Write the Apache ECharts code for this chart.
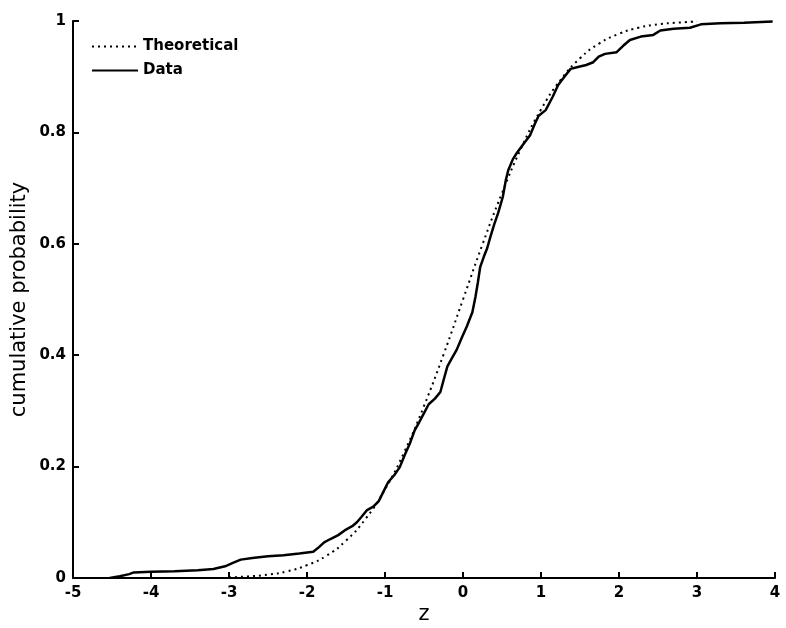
<!DOCTYPE html>
<html>
<head>
<meta charset="utf-8">
<script src="https://cdn.jsdelivr.net/npm/echarts@6/dist/echarts.min.js"></script>
<style>
  html, body { margin: 0; padding: 0; background: #fff; }
  #chart-cdf { width: 786px; height: 628px; }
</style>
</head>
<body>
<div id="chart-cdf"></div>
<script>
// Empirical vs theoretical CDF
const seriesNames = ['Theoretical', 'Data'];

// theoretical curve
const theoX = [-3, -2.75, -2.5, -2.25, -2, -1.75, -1.5, -1.25, -1, -0.75, -0.5, -0.25, 0,
               0.25, 0.5, 0.75, 1, 1.25, 1.5, 1.75, 2, 2.25, 2.5, 2.75, 3];
const theoY = [0.001, 0.003, 0.006, 0.012, 0.023, 0.040, 0.067, 0.106, 0.159, 0.227, 0.309, 0.401, 0.5,
               0.599, 0.691, 0.773, 0.841, 0.894, 0.933, 0.960, 0.977, 0.988, 0.994, 0.997, 0.999];

// data curve
const dataX = [-4.53, -4.40, -4.28, -4.22, -4.0, -3.7, -3.4, -3.2, -3.05, -2.95, -2.85, -2.7, -2.5, -2.3,
               -2.1, -1.92, -1.85, -1.78, -1.70, -1.60, -1.50, -1.42, -1.36, -1.30, -1.23, -1.15, -1.08,
               -1.02, -0.96, -0.88, -0.81, -0.75, -0.68, -0.62, -0.56, -0.50, -0.44, -0.36, -0.29, -0.24,
               -0.20, -0.14, -0.08, -0.02, 0.05, 0.12, 0.16, 0.19, 0.22, 0.27, 0.31, 0.35, 0.40, 0.45,
               0.51, 0.55, 0.58, 0.64, 0.69, 0.78, 0.86, 0.92, 0.97, 1.06, 1.15, 1.22, 1.30, 1.38, 1.46,
               1.58, 1.67, 1.74, 1.82, 1.97, 2.05, 2.14, 2.28, 2.44, 2.53, 2.70, 2.91, 3.05, 3.3, 3.6, 3.97];
const dataY = [0, 0.003, 0.007, 0.010, 0.011, 0.012, 0.014, 0.016, 0.021, 0.027, 0.033, 0.036, 0.039, 0.041,
               0.044, 0.047, 0.055, 0.064, 0.070, 0.077, 0.087, 0.093, 0.100, 0.110, 0.122, 0.128, 0.138,
               0.155, 0.172, 0.185, 0.199, 0.220, 0.242, 0.265, 0.280, 0.296, 0.312, 0.322, 0.334, 0.360,
               0.380, 0.395, 0.410, 0.430, 0.452, 0.477, 0.505, 0.530, 0.558, 0.578, 0.592, 0.612, 0.635, 0.655,
               0.684, 0.715, 0.732, 0.752, 0.763, 0.780, 0.795, 0.815, 0.830, 0.840, 0.864, 0.885, 0.900, 0.914, 0.917,
               0.921, 0.926, 0.936, 0.941, 0.944, 0.955, 0.966, 0.972, 0.975, 0.983, 0.986, 0.988, 0.994, 0.996, 0.997, 0.999];

const FONT = 'DejaVu Sans';

const chart = echarts.init(document.getElementById('chart-cdf'));
const axisCommon = {
    axisLine: { show: true, onZero: false, lineStyle: { color: '#000', width: 2 } },
    axisTick: { show: true, inside: true, length: 6, lineStyle: { color: '#000', width: 2 } },
    splitLine: { show: false },
    axisLabel: { color: '#000', fontFamily: FONT, fontWeight: 'bold', fontSize: 15 },
    nameTextStyle: { color: '#000', fontFamily: FONT, fontSize: 21 },
    nameMoveOverlap: false
};

chart.setOption({
    animation: false,
    backgroundColor: '#fff',
    grid: { left: 73, right: 11, top: 21, bottom: 50, outerBoundsMode: 'none', containLabel: false },
    legend: {
        orient: 'vertical',
        left: 86,
        top: 34,
        itemWidth: 46,
        itemHeight: 14,
        itemGap: 9,
        itemStyle: { opacity: 0 },
        textStyle: { color: '#000', fontFamily: FONT, fontWeight: 'bold', fontSize: 15 },
        data: seriesNames
    },
    xAxis: Object.assign({}, axisCommon, {
        type: 'value', min: -5, max: 4, interval: 1,
        name: 'z', nameLocation: 'middle', nameGap: 26,
        axisLabel: Object.assign({}, axisCommon.axisLabel, { margin: 8 })
    }),
    yAxis: Object.assign({}, axisCommon, {
        type: 'value', min: 0, max: 1, interval: 0.2,
        name: 'cumulative probability', nameLocation: 'middle', nameGap: 43,
        axisLabel: Object.assign({}, axisCommon.axisLabel, { margin: 7 })
    }),
    series: [
        {
            name: seriesNames[0],
            type: 'line',
            symbol: 'none',
            smooth: true,
            z: 2,
            lineStyle: { color: '#000', width: 2, type: [2, 4] },
            itemStyle: { color: '#000' },
            data: theoX.map((x, i) => [x, theoY[i]])
        },
        {
            name: seriesNames[1],
            type: 'line',
            symbol: 'none',
            z: 3,
            lineStyle: { color: '#000', width: 2.5 },
            itemStyle: { color: '#000' },
            data: dataX.map((x, i) => [x, dataY[i]])
        }
    ]
});
</script>
</body>
</html>
